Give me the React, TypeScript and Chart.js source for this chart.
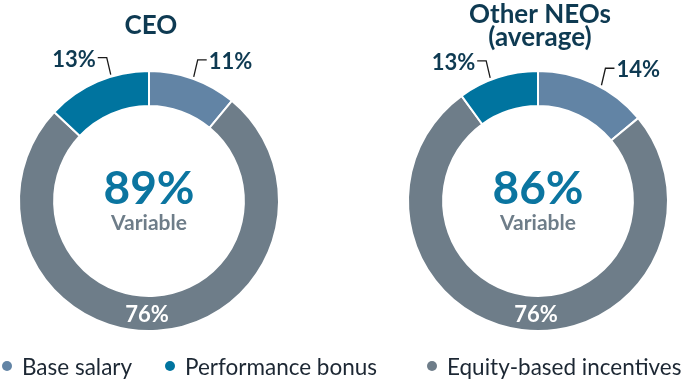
import React, { useEffect, useRef } from "react";
import { Chart, registerables } from "chart.js";

Chart.register(...registerables);

// Slices drawn clockwise from the top
const sliceCategories = ["Base salary", "Equity-based incentives", "Performance bonus"];
const legendCategories = ["Base salary", "Performance bonus", "Equity-based incentives"];

const ceoValues = [11, 76, 13];
const ceoLabels = ["11%", "76%", "13%"];
const ceoTitle = ["CEO"];
const ceoVariable = "89%";

const neoValues = [14, 76, 10];
const neoLabels = ["14%", "76%", "13%"];
const neoTitle = ["Other NEOs", "(average)"];
const neoVariable = "86%";

const colorMap: Record<string, string> = {
  "Base salary": "#6284a5",
  "Performance bonus": "#00749f",
  "Equity-based incentives": "#6e7d89",
};

const NAVY = "#0e3a52";
const FONT = "Lato, 'Noto Sans', sans-serif";

const labelPlugin = {
  id: "ringLabels",
  afterDatasetsDraw(chart: any, _args: any, opts: any) {
    const ctx = chart.ctx as CanvasRenderingContext2D;
    const meta = chart.getDatasetMeta(0);
    let cx = 0, cy = 0;
    ctx.save();
    meta.data.forEach((arc: any, i: number) => {
      const p = arc.getProps(["x", "y", "startAngle", "endAngle", "outerRadius", "innerRadius"], true);
      cx = p.x; cy = p.y;
      const text = opts.texts[i];
      if (opts.inside[i]) {
        const r = (p.outerRadius + p.innerRadius) / 2;
        ctx.fillStyle = "#ffffff";
        ctx.font = `bold 22px ${FONT}`;
        ctx.textAlign = "center";
        ctx.textBaseline = "middle";
        ctx.fillText(text, p.x - 2, p.y + r + 1);
      } else {
        const f = opts.at[i];
        const ang = p.startAngle + (p.endAngle - p.startAngle) * f;
        const r = p.outerRadius + 2;
        const ax = p.x + Math.cos(ang) * r;
        const ay = p.y + Math.sin(ang) * r;
        const dir = Math.cos(ang) >= 0 ? 1 : -1;
        const ex = ax + dir * 4;
        const ey = ay - 17;
        const hx = ex + dir * 9;
        ctx.strokeStyle = "#1a1a1a";
        ctx.lineWidth = 1.3;
        ctx.beginPath();
        ctx.moveTo(ax, ay);
        ctx.lineTo(ex, ey);
        ctx.lineTo(hx, ey);
        ctx.stroke();
        ctx.fillStyle = NAVY;
        ctx.font = `bold 22px ${FONT}`;
        ctx.textAlign = dir > 0 ? "left" : "right";
        ctx.textBaseline = "middle";
        ctx.fillText(text, hx + dir * 2, ey + 2);
      }
    });
    // center text
    ctx.textAlign = "center";
    ctx.textBaseline = "middle";
    ctx.fillStyle = "#0b75a0";
    ctx.font = `bold 46px ${FONT}`;
    ctx.fillText(opts.center, cx, cy - 12);
    ctx.fillStyle = "#6e7d89";
    ctx.font = `bold 21px ${FONT}`;
    ctx.fillText("Variable", cx, cy + 22);
    // title
    ctx.fillStyle = NAVY;
    ctx.font = `bold 26px ${FONT}`;
    const ys = opts.title.length === 1 ? [26] : [15, 38];
    opts.title.forEach((t: string, k: number) => ctx.fillText(t, cx + 2, ys[k]));
    ctx.restore();
  },
};

function makeChart(
  canvas: HTMLCanvasElement,
  values: number[],
  labels: string[],
  title: string[],
  center: string,
  at: number[],
  padding: { left: number; right: number; top: number; bottom: number }
) {
  return new Chart(canvas, {
    type: "doughnut",
    data: {
      labels: sliceCategories,
      datasets: [
        {
          data: values,
          backgroundColor: sliceCategories.map((c) => colorMap[c]),
          borderColor: "#ffffff",
          borderWidth: 2,
        },
      ],
    },
    options: {
      responsive: false,
      animation: false,
      cutout: "73%",
      layout: { padding },
      events: [],
      plugins: {
        legend: { display: false },
        tooltip: { enabled: false },
        ringLabels: {
          texts: labels,
          inside: [false, true, false],
          at,
          title,
          center,
        },
      } as any,
    },
    plugins: [labelPlugin as any],
  });
}

export default function App() {
  const c1 = useRef<HTMLCanvasElement>(null);
  const c2 = useRef<HTMLCanvasElement>(null);
  useEffect(() => {
    const a = makeChart(c1.current!, ceoValues, ceoLabels, ceoTitle, ceoVariable, [0.5, 0.5, 0.64], {
      left: 18, right: 18, top: 70, bottom: 50,
    });
    const b = makeChart(c2.current!, neoValues, neoLabels, neoTitle, neoVariable, [0.57, 0.5, 0.41], {
      left: 64, right: 17, top: 70, bottom: 50,
    });
    return () => {
      a.destroy();
      b.destroy();
    };
  }, []);

  const legendLefts = [2, 165, 427];
  return (
    <div style={{ position: "absolute", left: 0, top: 0, width: 686, height: 382, background: "#fff", overflow: "hidden" }}>
      <canvas ref={c1} width={298} height={382} style={{ position: "absolute", left: 0, top: 0 }} />
      <canvas ref={c2} width={343} height={382} style={{ position: "absolute", left: 343, top: 0 }} />
      {legendCategories.map((c, i) => (
        <div
          key={c}
          style={{
            position: "absolute",
            left: legendLefts[i],
            top: 352,
            height: 28,
            display: "flex",
            alignItems: "center",
            fontFamily: FONT,
            fontSize: 22.5,
            color: "#1c2733",
            whiteSpace: "nowrap",
          }}
        >
          <span
            style={{
              display: "inline-block",
              width: 10,
              height: 10,
              borderRadius: "50%",
              background: colorMap[c],
              marginRight: 10,
            }}
          />
          {c}
        </div>
      ))}
    </div>
  );
}
